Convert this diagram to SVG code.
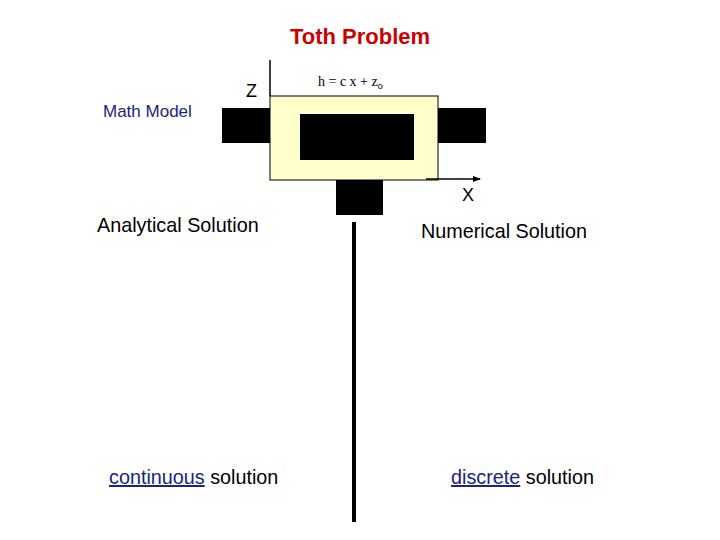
<svg xmlns="http://www.w3.org/2000/svg" width="720" height="540" viewBox="0 0 720 540">
<style>
.t{font-family:"Liberation Sans",Arial,sans-serif}
.b{fill:#000}
</style>
<defs><marker id="a" markerWidth="8" markerHeight="8" refX="7" refY="4" orient="auto" markerUnits="userSpaceOnUse"><path d="M0,1 L8,4 L0,7 Z" fill="#000"/></marker></defs>
<rect width="720" height="540" fill="#fff"/>
<text class="t" x="360" y="44" text-anchor="middle" font-size="22" font-weight="bold" fill="#cc0000">Toth Problem</text>
<text class="t" x="103" y="117" font-size="17" fill="#1a237e">Math Model</text>
<g id="model">
<rect class="b" x="222" y="108" width="48" height="35"/>
<rect class="b" x="438" y="108" width="48" height="35"/>
<rect class="b" x="336" y="180" width="47" height="35"/>
<rect x="270" y="96" width="168" height="84" fill="#ffffcc" stroke="#000" stroke-width="1"/>
<rect class="b" x="300" y="114" width="114" height="46"/>
<text class="t" x="246" y="97" font-size="18">Z</text>
<text x="318" y="86" font-family="Liberation Serif,serif" font-size="14">h = c x + z<tspan font-size="10" dy="3">o</tspan></text>
<text class="t" x="462" y="201" font-size="18">X</text>
</g>
<g id="connectors">
<line x1="270" y1="96" x2="270" y2="60" stroke="#000" stroke-width="1.5"/>
<line x1="426" y1="179" x2="480" y2="179" stroke="#000" stroke-width="1.5" marker-end="url(#a)"/>
<line x1="354" y1="222" x2="354" y2="522" stroke="#000" stroke-width="4"/>
</g>
<g id="analytical"><text class="t" x="97" y="232" font-size="19.8">Analytical Solution</text></g>
<g id="numerical"><text class="t" x="421" y="238" font-size="19.8">Numerical Solution</text></g>
<g id="cont"><text class="t" x="109" y="484" font-size="19.8"><tspan fill="#1a237e" text-decoration="underline">continuous</tspan> solution</text></g>
<g id="disc"><text class="t" x="451" y="484" font-size="19.8"><tspan fill="#1a237e" text-decoration="underline">discrete</tspan> solution</text></g>
</svg>
